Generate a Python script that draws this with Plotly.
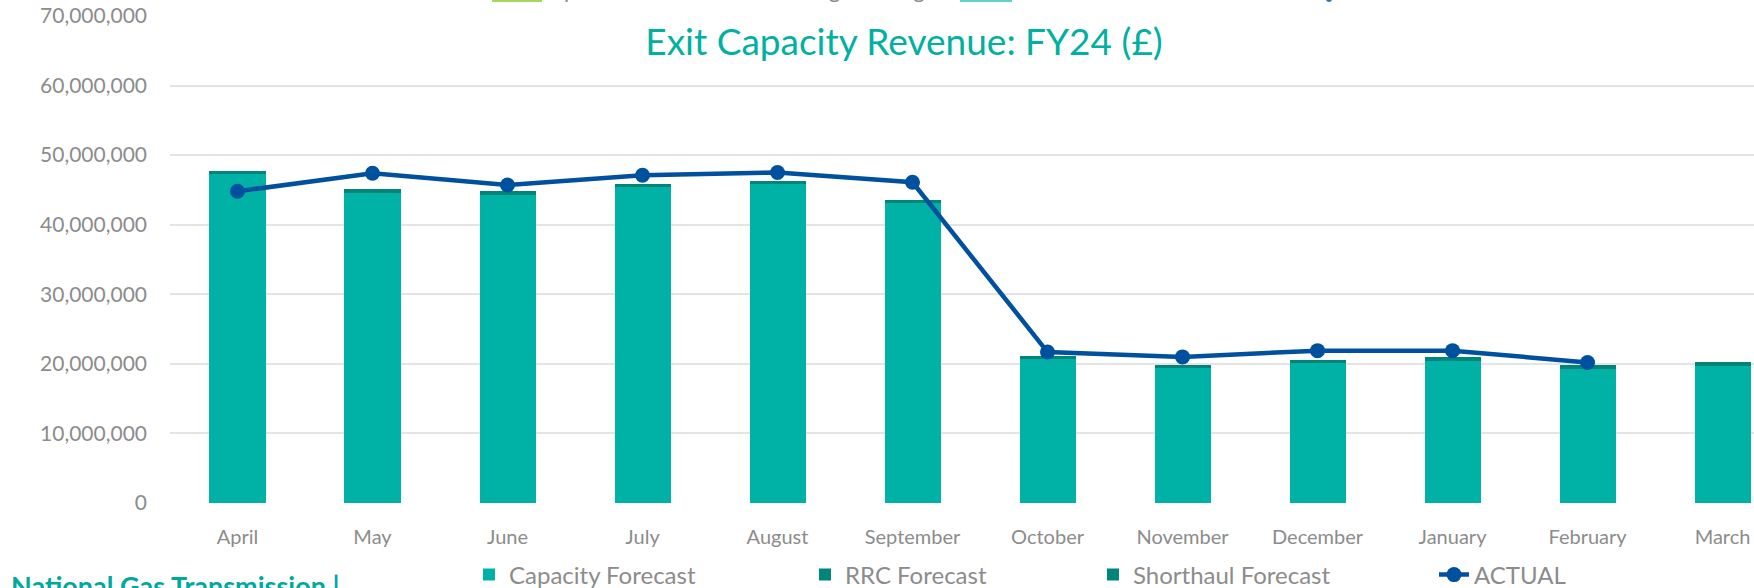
import plotly.graph_objects as go

months = ["April", "May", "June", "July", "August", "September",
          "October", "November", "December", "January", "February", "March"]
capacity_forecast = [47300000, 44700000, 44400000, 45500000, 45900000, 43200000,
                     20750000, 19460000, 20200000, 20500000, 19400000, 19800000]
rrc_forecast = [200000] * 12
shorthaul_forecast = [200000] * 12
actual = [44800000, 47400000, 45700000, 47100000, 47500000, 46100000,
          21700000, 21000000, 21900000, 21900000, 20200000, None]

y_ticks = [0, 10000000, 20000000, 30000000, 40000000, 50000000, 60000000, 70000000]

FONT = "Lato"
GRAY = "#8C8C8C"
TEAL = "#00B2A5"
DARK_TEAL = "#00857A"
BLUE = "#0050A0"

fig = go.Figure()
fig.add_trace(go.Bar(x=months, y=capacity_forecast, name="Capacity Forecast",
                     marker=dict(color=TEAL, line=dict(width=0)), legend="legend"))
fig.add_trace(go.Bar(x=months, y=rrc_forecast, name="RRC Forecast",
                     marker=dict(color=DARK_TEAL, line=dict(width=0)), legend="legend2"))
fig.add_trace(go.Bar(x=months, y=shorthaul_forecast, name="Shorthaul Forecast",
                     marker=dict(color=DARK_TEAL, line=dict(width=0)), legend="legend3"))
fig.add_trace(go.Scatter(x=months, y=actual, name="ACTUAL", mode="lines+markers",
                         line=dict(color=BLUE, width=4.5),
                         marker=dict(color=BLUE, size=15), legend="legend4"))

H_PLOT = 487.0
W_PLOT = 1584.0
L = 170


def px_x(p):
    return (p - L) / W_PLOT


def px_y(p):
    return (503 - p) / H_PLOT


leg_common = dict(orientation="h", yanchor="middle", y=px_y(575), xanchor="left",
                  font=dict(family=FONT, size=24, color=GRAY), bgcolor="rgba(0,0,0,0)")

fig.update_layout(
    width=1754, height=588,
    margin=dict(l=L, r=0, t=16, b=85, autoexpand=False),
    paper_bgcolor="white", plot_bgcolor="white",
    barmode="stack", bargap=0.585,
    font=dict(family=FONT, color=GRAY),
    title=dict(text="Exit Capacity Revenue: FY24 (£)", x=904 / 1754, xanchor="center",
               y=1 - 42 / 588, yanchor="middle",
               font=dict(family=FONT, size=37, color="#00B0A0")),
    xaxis=dict(range=[-0.5, 11.233], showgrid=False, zeroline=False, showline=False,
               automargin=False,
               ticks="", tickfont=dict(family=FONT, size=20, color=GRAY),
               ticklabelstandoff=20, fixedrange=True),
    yaxis=dict(range=[0, 70000000], tickvals=y_ticks, tickformat=",d", automargin=False,
               showgrid=True, gridcolor="#E4E4E4", gridwidth=2, zeroline=False,
               showline=False, ticks="", tickfont=dict(family=FONT, size=21, color=GRAY),
               ticklabelstandoff=22, fixedrange=True),
    legend=dict(x=px_x(469), **leg_common),
    legend2=dict(x=px_x(805), **leg_common),
    legend3=dict(x=px_x(1093), **leg_common),
    legend4=dict(x=px_x(1434), **leg_common),
    showlegend=True,
)

# partially visible legend of a chart above (cut off at top edge)
top_items = [
    ("Xpt Forecast for Oct 23 Charge Setting", 548, "#A8D85B", 492, 542),
    ("FCS Forecast Oct 23", 1018, "#5FD3C8", 960, 1012),
]
for text, tx, col, x0, x1 in top_items:
    fig.add_annotation(text=text, xref="paper", yref="paper", x=px_x(tx), y=px_y(-10),
                       xanchor="left", yanchor="middle", showarrow=False,
                       font=dict(family=FONT, size=22, color=GRAY))
    fig.add_shape(type="rect", xref="paper", yref="paper", x0=px_x(x0), x1=px_x(x1),
                  y0=px_y(-8), y1=px_y(2), fillcolor=col, line=dict(width=0))
fig.add_annotation(text="Actual", xref="paper", yref="paper", x=px_x(1351), y=px_y(-10),
                   xanchor="left", yanchor="middle", showarrow=False,
                   font=dict(family=FONT, size=22, color=GRAY))
fig.add_shape(type="circle", xref="paper", yref="paper", x0=px_x(1326), x1=px_x(1332),
              y0=px_y(-4), y1=px_y(2), fillcolor="#2E75B6", line=dict(width=0))

fig.add_annotation(text="<b>National Gas Transmission |</b>", xref="paper", yref="paper",
                   x=px_x(9), y=px_y(585), xanchor="left", yanchor="middle", showarrow=False,
                   font=dict(family=FONT, size=27, color="#00A99D"))

fig.write_html("out.html", config={"displayModeBar": False},
               post_script="document.body.style.margin='0';document.body.style.overflow='hidden';")
